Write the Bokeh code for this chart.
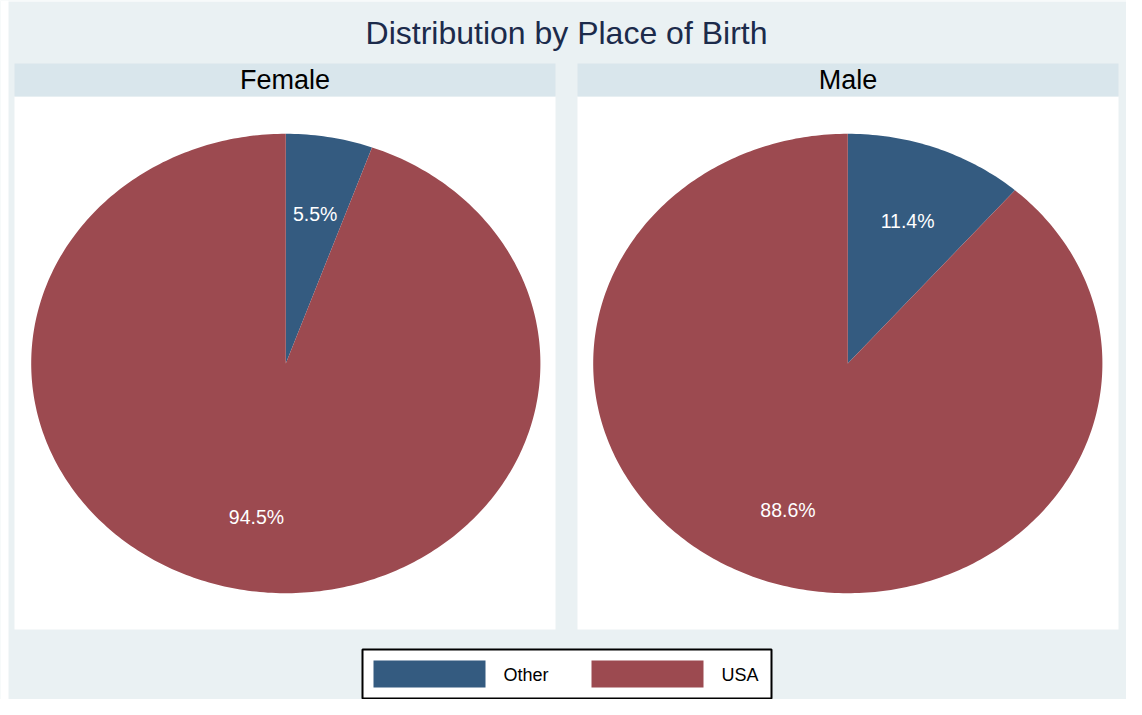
import numpy as np
from bokeh.plotting import figure
from bokeh.models import Range1d
from bokeh.core.properties import value
from bokeh.embed import file_html
from bokeh.resources import INLINE

# ---- data ----
panels = ["Female", "Male"]
categories = ["Other", "USA"]
female_pct = [5.5, 94.5]
male_pct = [11.4, 88.6]
colors = ["#345B80", "#9C4A50"]
title_text = "Distribution by Place of Birth"

FONT = "Liberation Sans"
BG = "#EAF1F3"
HEADER = "#D9E6EC"

W, H = 1126, 699
Y0 = 4  # top of the drawing in reference pixel coordinates
p = figure(width=W, height=H, output_backend="svg", toolbar_location=None,
           x_range=Range1d(0, W), y_range=Range1d(Y0 + H, Y0),
           min_border=0, background_fill_color=BG, border_fill_color=BG,
           outline_line_color=None)
p.axis.visible = False
p.grid.visible = False

# white page margin on the left and top
p.quad(left=[0], right=[8], top=[Y0], bottom=[Y0 + H], fill_color="white", line_color=None)
p.quad(left=[0], right=[W], top=[Y0], bottom=[5], fill_color="white", line_color=None)

# panel layout (pixel coordinates)
panel_left = [14, 577]
panel_width = 541
panel_top, header_h, panel_bottom = 67, 33, 633
centers_x = [285.3, 847.3]
center_y = 367
rx, ry = 254.6, 229.7
label_frac = 0.67

# panel backgrounds and headers
p.quad(left=panel_left, right=[l + panel_width for l in panel_left],
       top=[panel_top + header_h] * 2, bottom=[panel_bottom] * 2,
       fill_color="white", line_color=None)
p.quad(left=panel_left, right=[l + panel_width for l in panel_left],
       top=[panel_top] * 2, bottom=[panel_top + header_h] * 2,
       fill_color=HEADER, line_color=None)
p.text(x=[l + panel_width / 2 for l in panel_left], y=[panel_top + header_h / 2] * 2,
       text=panels, text_font=value(FONT), text_font_size="27px",
       text_align="center", text_baseline="middle", text_color="black")

# title
p.text(x=[566], y=[36], text=[title_text], text_font=value(FONT),
       text_font_size="32px", text_align="center", text_baseline="middle",
       text_color="#1C2B4B")

# pies
all_vals = [female_pct, male_pct]
xs_by_cat = {c: [] for c in categories}
ys_by_cat = {c: [] for c in categories}
lab_x, lab_y, lab_t = [], [], []
for cx, vals in zip(centers_x, all_vals):
    total = float(sum(vals))
    start = 0.0
    for cat, v in zip(categories, vals):
        frac = v / total
        a0, a1 = start * 2 * np.pi, (start + frac) * 2 * np.pi
        th = np.linspace(a0, a1, max(int(400 * frac), 4))
        xs = np.concatenate([[cx], cx + rx * np.sin(th)])
        ys = np.concatenate([[center_y], center_y - ry * np.cos(th)])
        xs_by_cat[cat].append(list(xs))
        ys_by_cat[cat].append(list(ys))
        mid = (a0 + a1) / 2
        lab_x.append(cx + label_frac * rx * np.sin(mid))
        lab_y.append(center_y - label_frac * ry * np.cos(mid) + 2)
        lab_t.append(f"{v:.1f}%")
        start += frac

for cat, col in zip(categories, colors):
    p.patches(xs=xs_by_cat[cat], ys=ys_by_cat[cat], fill_color=col, line_color=None)

p.text(x=lab_x, y=lab_y, text=lab_t, text_font=value(FONT), text_font_size="19.5px",
       text_align="center", text_baseline="middle", text_color="white")

# legend (drawn box, swatches and labels)
lg_left, lg_right, lg_top, lg_bottom = 362, 771, 653, 702
p.quad(left=[lg_left], right=[lg_right], top=[lg_top], bottom=[lg_bottom],
       fill_color="white", line_color="black", line_width=2)
step = 218
sw_left = [373 + i * step for i in range(len(categories))]
p.quad(left=sw_left, right=[s + 112 for s in sw_left], top=[664] * len(categories),
       bottom=[691] * len(categories), fill_color=colors, line_color=None)
p.text(x=[s + 130 for s in sw_left], y=[678] * len(categories), text=categories,
       text_font=value(FONT), text_font_size="18px", text_align="left",
       text_baseline="middle", text_color="black")

open("out.html", "w").write(file_html(p, INLINE))
